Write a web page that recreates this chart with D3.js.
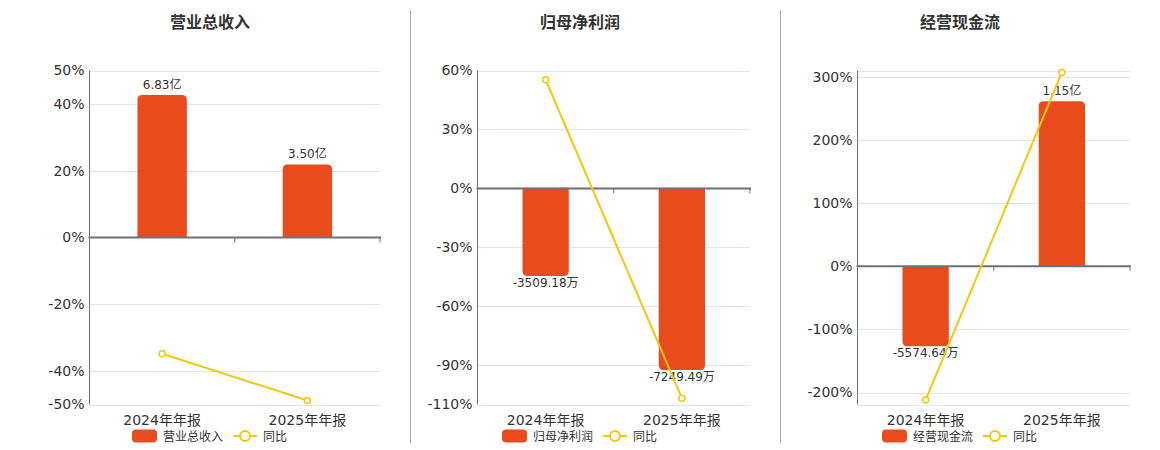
<!DOCTYPE html>
<html>
<head>
<meta charset="utf-8">
<script src="https://cdn.jsdelivr.net/npm/d3@7"></script>
<style>
  body { margin: 0; background: #fff; }
  svg { display: block; font-family: "DejaVu Sans", "Noto Sans CJK SC", sans-serif; }
</style>
</head>
<body>
<svg id="chart" width="1160" height="450"></svg>
<script>
// Data (bar values in 万, yoy in %)
const categories = ["2024年年报", "2025年年报"];
const titles = ["营业总收入", "归母净利润", "经营现金流"];
const revenueBar = [68300, 35000];
const profitBar = [-3509.18, -7249.49];
const cashBar = [-5574.64, 11500];
const revenueYoy = [-34.8, -48.8];
const profitYoy = [55.3, -106.8];
const cashYoy = [-212, 307];
const revenueTicks = [-50, -40, -20, 0, 20, 40, 50];
const profitTicks = [-110, -90, -60, -30, 0, 30, 60];
const cashTicks = [-200, -100, 0, 100, 200, 300];

const BAR_COLOR = "#e84c1c";
const LINE_COLOR = "#f2c80f";
const AXIS_COLOR = "#6e7079";
const GRID_COLOR = "#e0e6f1";
const TEXT_COLOR = "#333";

const panels = [
  { title: titles[0], bars: revenueBar, yoy: revenueYoy, ticks: revenueTicks,
    pctDomain: [-50, 50], barDomain: [-80000, 80000], x0: 89.5, x1: 380, center: 210 },
  { title: titles[1], bars: profitBar, yoy: profitYoy, ticks: profitTicks,
    pctDomain: [-110, 60], barDomain: [-8620, 4670], x0: 477.5, x1: 750, center: 580 },
  { title: titles[2], bars: cashBar, yoy: cashYoy, ticks: cashTicks,
    pctDomain: [-219, 310], barDomain: [-9640, 13640], x0: 857.5, x1: 1130, center: 960 }
];

const plotTop = 70.5, plotBottom = 404.5;
const svg = d3.select("#chart");

function fmtWan(v) {
  if (Math.abs(v) >= 10000) return (v / 10000).toFixed(2) + "亿";
  return v.toFixed(2) + "万";
}

// bar path with rounded corners only at the far end
function barPath(x, w, y0, y1, r) {
  const up = y1 < y0;
  const h = Math.abs(y1 - y0);
  r = Math.min(r, h, w / 2);
  if (up) {
    return `M${x},${y0}V${y1 + r}Q${x},${y1} ${x + r},${y1}H${x + w - r}Q${x + w},${y1} ${x + w},${y1 + r}V${y0}Z`;
  }
  return `M${x},${y0}V${y1 - r}Q${x},${y1} ${x + r},${y1}H${x + w - r}Q${x + w},${y1} ${x + w},${y1 - r}V${y0}Z`;
}

function drawPanel(p) {
  const g = svg.append("g");

  const x = d3.scaleBand().domain(categories).range([p.x0, p.x1]);
  const y = d3.scaleLinear().domain(p.pctDomain).range([plotBottom, plotTop]);
  const yb = d3.scaleLinear().domain(p.barDomain).range([plotBottom, plotTop]);

  // title
  g.append("text")
    .attr("x", p.center).attr("y", 28)
    .attr("text-anchor", "middle")
    .style("font-size", "16px").style("font-weight", "bold")
    .style("fill", TEXT_COLOR)
    .text(p.title);

  // grid lines: ticks plus domain ends
  const gridVals = Array.from(new Set(p.ticks.concat(p.pctDomain)));
  g.selectAll("line.grid")
    .data(gridVals.filter(d => d !== 0))
    .enter().append("line")
    .attr("x1", p.x0).attr("x2", p.x1)
    .attr("y1", d => Math.round(y(d)) + 0.5).attr("y2", d => Math.round(y(d)) + 0.5)
    .attr("stroke", GRID_COLOR).attr("stroke-width", 1);

  // y axis labels
  const yAxis = g.append("g")
    .attr("transform", `translate(${p.x0},0)`)
    .call(d3.axisLeft(y).tickValues(p.ticks).tickSize(0).tickPadding(5).tickFormat(d => d + "%"));
  yAxis.select(".domain").remove();
  yAxis.selectAll("text")
    .style("font-size", "14px")
    .style("font-family", "\"DejaVu Sans\", sans-serif")
    .style("fill", TEXT_COLOR);

  // y axis line
  g.append("line")
    .attr("x1", p.x0).attr("x2", p.x0)
    .attr("y1", plotTop).attr("y2", plotBottom)
    .attr("stroke", AXIS_COLOR).attr("stroke-width", 1);

  // bars
  const bw = x.bandwidth() * 0.34;
  g.selectAll("path.bar")
    .data(p.bars)
    .enter().append("path")
    .attr("d", (d, i) => barPath(x(categories[i]) + (x.bandwidth() - bw) / 2, bw, yb(0), yb(d), 5))
    .attr("fill", BAR_COLOR);

  // bar labels
  g.selectAll("text.barlabel")
    .data(p.bars)
    .enter().append("text")
    .attr("x", (d, i) => x(categories[i]) + x.bandwidth() / 2)
    .attr("y", d => d >= 0 ? yb(d) - 6 : yb(d) + 11)
    .attr("text-anchor", "middle")
    .style("font-size", "12px")
    .style("fill", TEXT_COLOR)
    .text(d => fmtWan(d));

  // zero axis with ticks at band edges
  const y0 = y(0);
  g.append("line")
    .attr("x1", p.x0 - 1).attr("x2", p.x1 + 1)
    .attr("y1", y0).attr("y2", y0)
    .attr("stroke", AXIS_COLOR).attr("stroke-width", 2);
  g.selectAll("line.xtick")
    .data(categories)
    .enter().append("line")
    .attr("x1", d => x(d) + x.step()).attr("x2", d => x(d) + x.step())
    .attr("y1", y0).attr("y2", y0 + 5)
    .attr("stroke", AXIS_COLOR).attr("stroke-width", 1);

  // category labels
  g.selectAll("text.cat")
    .data(categories)
    .enter().append("text")
    .attr("x", d => x(d) + x.bandwidth() / 2)
    .attr("y", 425)
    .attr("text-anchor", "middle")
    .style("font-size", "14px")
    .style("fill", TEXT_COLOR)
    .text(d => d);

  // yoy line
  const line = d3.line()
    .x((d, i) => x(categories[i]) + x.bandwidth() / 2)
    .y(d => y(d));
  g.append("path")
    .datum(p.yoy)
    .attr("d", line)
    .attr("fill", "none")
    .attr("stroke", LINE_COLOR)
    .attr("stroke-width", 2);
  g.selectAll("circle.pt")
    .data(p.yoy)
    .enter().append("circle")
    .attr("cx", (d, i) => x(categories[i]) + x.bandwidth() / 2)
    .attr("cy", d => y(d))
    .attr("r", 3)
    .attr("fill", "#fff")
    .attr("stroke", LINE_COLOR)
    .attr("stroke-width", 1.5);

  // legend
  const lg = g.append("g").attr("transform", `translate(${p.center - 78},436)`);
  lg.append("rect")
    .attr("x", 0).attr("y", -6.5).attr("width", 25).attr("height", 13)
    .attr("rx", 4).attr("fill", BAR_COLOR);
  lg.append("text")
    .attr("x", 31).attr("y", 4.5)
    .style("font-size", "12px").style("fill", TEXT_COLOR)
    .text(p.title);
  lg.append("line")
    .attr("x1", 101).attr("x2", 125).attr("y1", 0).attr("y2", 0)
    .attr("stroke", LINE_COLOR).attr("stroke-width", 2);
  lg.append("circle")
    .attr("cx", 113).attr("cy", 0).attr("r", 5)
    .attr("fill", "#fff").attr("stroke", LINE_COLOR).attr("stroke-width", 2);
  lg.append("text")
    .attr("x", 131).attr("y", 4.5)
    .style("font-size", "12px").style("fill", TEXT_COLOR)
    .text("同比");
}

panels.forEach(drawPanel);

// separators between panels
[410.5, 780.5].forEach(sx => {
  svg.append("line")
    .attr("x1", sx).attr("x2", sx).attr("y1", 10).attr("y2", 443)
    .attr("stroke", "#aaa").attr("stroke-width", 1);
});
</script>
</body>
</html>
